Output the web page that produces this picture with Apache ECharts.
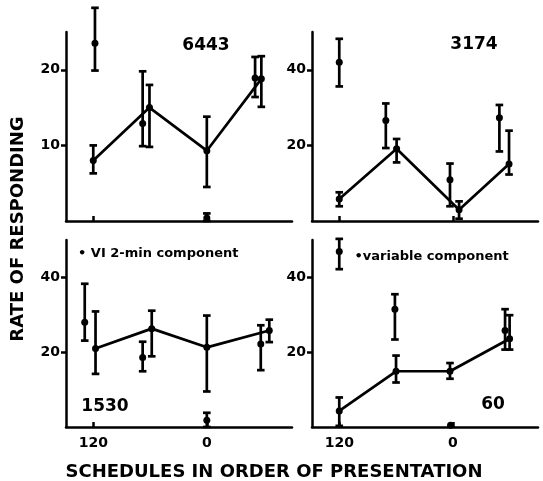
<!DOCTYPE html>
<html><head><meta charset="utf-8">
<script src="https://cdn.jsdelivr.net/npm/echarts@6/dist/echarts.min.js"></script>
<style>html,body{margin:0;padding:0;background:#fff}#c{width:543px;height:481px}</style>
</head><body><div id="c"></div>
<script>
// Shared x-axis ticks (schedule order positions) and their labels
const xTickPositions = [0, 2];
const xTickLabels = ['120', '0'];

// Panel 1: subject 6443
const p1Name = '6443';
const p1YTicks = [10, 20];
const p1YMax = 25;
const p1LineX = [0, 0.99, 2.0, 2.96];
const p1LineY = [8.0, 15.0, 9.3, 18.8];
const p1LineLow = [6.3, 9.8, 4.5, 15.1];
const p1LineHigh = [10.0, 18.0, 13.8, 21.8];
const p1VarX = [0.03, 0.87, 2.0, 2.85];
const p1VarY = [23.5, 12.9, 0.4, 18.9];
const p1VarLow = [19.9, 9.9, 0, 16.4];
const p1VarHigh = [28.2, 19.8, 1.0, 21.7];

// Panel 2: subject 3174
const p2Name = '3174';
const p2YTicks = [20, 40];
const p2YMax = 50;
const p2LineX = [0, 1.01, 2.11, 2.99];
const p2LineY = [5.8, 19.1, 3.0, 15.1];
const p2LineLow = [3.9, 15.5, 0.6, 12.3];
const p2LineHigh = [7.6, 21.7, 5.2, 23.9];
const p2VarX = [0, 0.82, 1.95, 2.82];
const p2VarY = [42.0, 26.6, 10.9, 27.3];
const p2VarLow = [35.6, 19.3, 3.9, 18.4];
const p2VarHigh = [48.2, 31.1, 15.2, 30.7];

// Panel 3: subject 1530
const p3Name = '1530';
const p3YTicks = [20, 40];
const p3YMax = 50;
const p3LineX = [0.04, 1.03, 2.0, 3.1];
const p3LineY = [21.0, 26.3, 21.3, 25.8];
const p3LineLow = [14.2, 18.9, 9.5, 22.7];
const p3LineHigh = [30.9, 31.1, 29.8, 28.7];
const p3VarX = [-0.15, 0.87, 2.0, 2.95];
const p3VarY = [28.0, 18.6, 1.8, 22.2];
const p3VarLow = [23.1, 14.9, 0, 15.2];
const p3VarHigh = [38.3, 22.8, 3.8, 27.2];

// Panel 4: subject 60
const p4Name = '60';
const p4YTicks = [20, 40];
const p4YMax = 50;
const p4LineX = [0, 1.0, 1.95, 3.0];
const p4LineY = [4.3, 14.9, 14.9, 23.6];
const p4LineLow = [0.3, 11.9, 12.9, 20.7];
const p4LineHigh = [7.9, 19.1, 17.1, 29.9];
const p4VarX = [0, 0.98, 1.96, 2.92];
const p4VarY = [46.9, 31.5, 0.5, 25.8];
const p4VarLow = [42.2, 23.4, 0.5, 20.7];
const p4VarHigh = [50.3, 35.5, 0.5, 31.5];

const legendVI = '• VI 2-min component';
const legendVar = '•variable component';
const xTitle = 'SCHEDULES IN ORDER OF PRESENTATION';
const yTitle = 'RATE OF RESPONDING';

const panels = [
  {name:p1Name, yTicks:p1YTicks, yMax:p1YMax, lx:p1LineX, ly:p1LineY, ll:p1LineLow, lh:p1LineHigh, vx:p1VarX, vy:p1VarY, vl:p1VarLow, vh:p1VarHigh},
  {name:p2Name, yTicks:p2YTicks, yMax:p2YMax, lx:p2LineX, ly:p2LineY, ll:p2LineLow, lh:p2LineHigh, vx:p2VarX, vy:p2VarY, vl:p2VarLow, vh:p2VarHigh},
  {name:p3Name, yTicks:p3YTicks, yMax:p3YMax, lx:p3LineX, ly:p3LineY, ll:p3LineLow, lh:p3LineHigh, vx:p3VarX, vy:p3VarY, vl:p3VarLow, vh:p3VarHigh},
  {name:p4Name, yTicks:p4YTicks, yMax:p4YMax, lx:p4LineX, ly:p4LineY, ll:p4LineLow, lh:p4LineHigh, vx:p4VarX, vy:p4VarY, vl:p4VarLow, vh:p4VarHigh}
];

const INK = '#000';
const FONT = 'DejaVu Sans';
const grids = [
  {left:66, top:32, width:226, height:189},
  {left:312, top:32, width:226, height:189},
  {left:66, top:240, width:226, height:187},
  {left:312, top:240, width:226, height:187}
];

function errRender(params, api) {
  const x = api.value(0), lo = api.value(1), hi = api.value(2);
  if (lo === hi) return;
  const a = api.coord([x, lo]), b = api.coord([x, hi]);
  const c = 3.8;
  const st = {stroke: INK, lineWidth: 2.7};
  return {type:'group', children:[
    {type:'line', shape:{x1:a[0], y1:a[1], x2:b[0], y2:b[1]}, style:st},
    {type:'line', shape:{x1:a[0]-c, y1:a[1], x2:a[0]+c, y2:a[1]}, style:st},
    {type:'line', shape:{x1:b[0]-c, y1:b[1], x2:b[0]+c, y2:b[1]}, style:st}
  ]};
}

const xAxes = [], yAxes = [], series = [];
panels.forEach((p, i) => {
  const bottomRow = i >= 2;
  xAxes.push({
    type:'value', gridIndex:i, min:-0.48, max:3.5,
    axisLine:{show:true, onZero:false, lineStyle:{color:INK, width:2.5}},
    axisTick:{show:true, inside:true, length:5, customValues:xTickPositions, lineStyle:{color:INK, width:2.5}},
    axisLabel:{show:bottomRow, customValues:xTickPositions, margin:9,
      formatter:(v) => xTickLabels[xTickPositions.indexOf(v)] || '',
      color:INK, fontFamily:FONT, fontWeight:'bold', fontSize:14},
    splitLine:{show:false}
  });
  yAxes.push({
    type:'value', gridIndex:i, min:0, max:p.yMax,
    axisLine:{show:true, onZero:false, lineStyle:{color:INK, width:2.5}},
    axisTick:{show:true, inside:false, length:5, customValues:p.yTicks, lineStyle:{color:INK, width:2.5}},
    axisLabel:{show:true, customValues:p.yTicks, margin:6, color:INK, fontFamily:FONT, fontWeight:'bold', fontSize:14},
    splitLine:{show:false}
  });
  series.push({
    type:'line', xAxisIndex:i, yAxisIndex:i,
    data:p.lx.map((x, k) => [x, p.ly[k]]),
    symbol:'circle', symbolSize:7, showSymbol:true,
    lineStyle:{color:INK, width:2.7}, itemStyle:{color:INK, opacity:1}, clip:false, z:3
  });
  series.push({
    type:'custom', xAxisIndex:i, yAxisIndex:i, renderItem:errRender, clip:false,
    data:p.lx.map((x, k) => [x, p.ll[k], p.lh[k]]), encode:{x:0, y:[1,2]}, z:2
  });
  series.push({
    type:'scatter', xAxisIndex:i, yAxisIndex:i,
    data:p.vx.map((x, k) => [x, p.vy[k]]),
    symbol:'circle', symbolSize:7, itemStyle:{color:INK, opacity:1}, clip:false, z:3
  });
  series.push({
    type:'custom', xAxisIndex:i, yAxisIndex:i, renderItem:errRender, clip:false,
    data:p.vx.map((x, k) => [x, p.vl[k], p.vh[k]]), encode:{x:0, y:[1,2]}, z:2
  });
});

const txt = (x, y, text, size, align, extra) => Object.assign({
  type:'text', x:x, y:y,
  style:{text:text, fill:INK, font:'bold ' + size + 'px "' + FONT + '"', textAlign:align, textVerticalAlign:'middle'}
}, extra || {});

const chart = echarts.init(document.getElementById('c'), null, {renderer:'canvas'});
chart.setOption({
  animation:false,
  backgroundColor:'#fff',
  grid:grids,
  xAxis:xAxes,
  yAxis:yAxes,
  series:series,
  graphic:[
    txt(206, 46, p1Name, 17, 'center'),
    txt(474, 45, p2Name, 17, 'center'),
    txt(105, 407, p3Name, 17, 'center'),
    txt(493, 405, p4Name, 17, 'center'),
    txt(78, 254, legendVI, 13, 'left'),
    txt(354.5, 257, legendVar, 13, 'left'),
    txt(274, 472, xTitle, 18, 'center'),
    txt(18, 229, yTitle, 18, 'center', {rotation:Math.PI/2})
  ]
});
</script>
</body></html>
